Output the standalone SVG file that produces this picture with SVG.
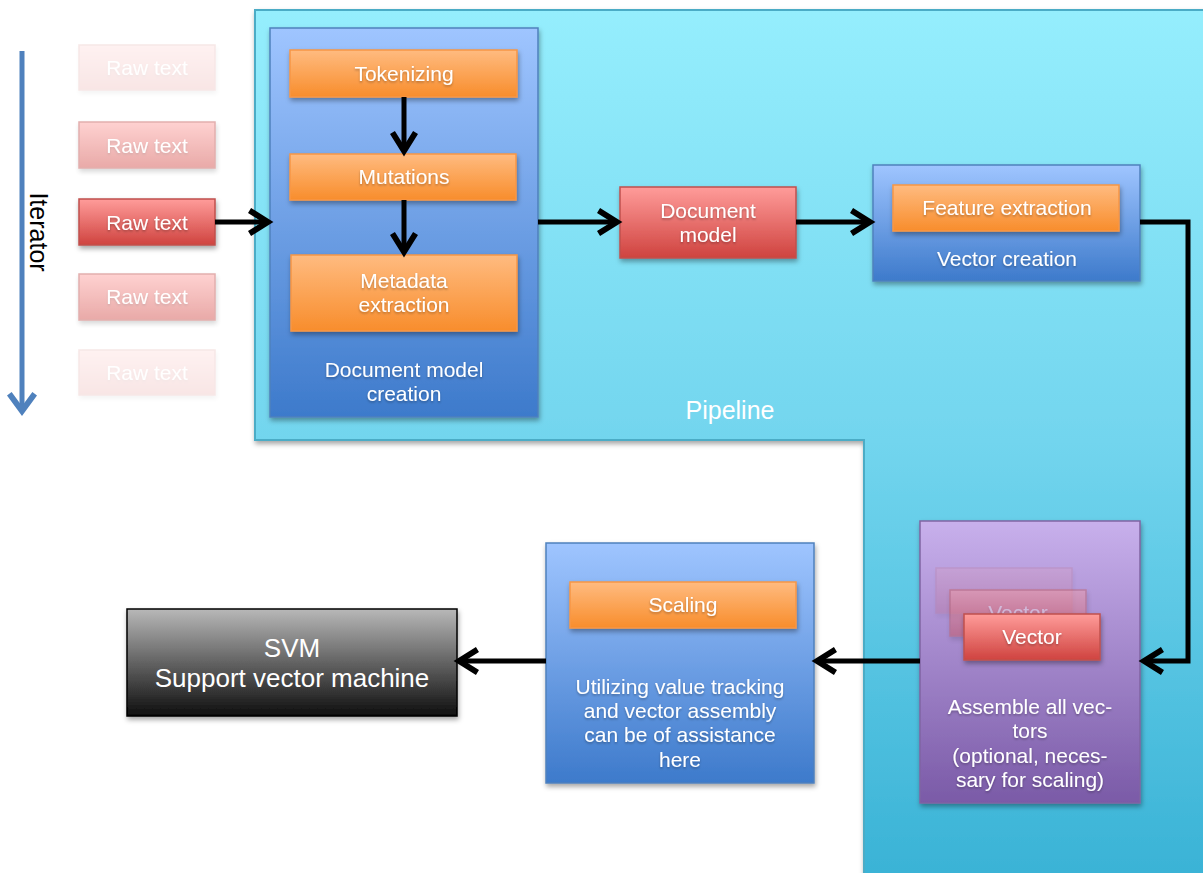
<svg xmlns="http://www.w3.org/2000/svg" width="1203" height="873" viewBox="0 0 1203 873">
  <defs>
    <linearGradient id="gPipe" x1="0" y1="10" x2="0" y2="873" gradientUnits="userSpaceOnUse">
      <stop offset="0" stop-color="#95EEFD"/>
      <stop offset="0.5" stop-color="#72D5EE"/>
      <stop offset="1" stop-color="#3AB3D6"/>
    </linearGradient>
    <linearGradient id="gBlue" x1="0" y1="0" x2="0" y2="1">
      <stop offset="0" stop-color="#9FC5FF"/>
      <stop offset="1" stop-color="#3D7ACB"/>
    </linearGradient>
    <linearGradient id="gOrange" x1="0" y1="0" x2="0" y2="1">
      <stop offset="0" stop-color="#FFBB80"/>
      <stop offset="1" stop-color="#F88D2C"/>
    </linearGradient>
    <linearGradient id="gRed" x1="0" y1="0" x2="0" y2="1">
      <stop offset="0" stop-color="#FF9C9A"/>
      <stop offset="1" stop-color="#CF433F"/>
    </linearGradient>
    <linearGradient id="gPurple" x1="0" y1="0" x2="0" y2="1">
      <stop offset="0" stop-color="#C8B0EC"/>
      <stop offset="1" stop-color="#7A5AA7"/>
    </linearGradient>
    <linearGradient id="gGrey" x1="0" y1="0" x2="0" y2="1">
      <stop offset="0" stop-color="#B8B8B8"/>
      <stop offset="1" stop-color="#0E0E0E"/>
    </linearGradient>
    <filter id="shadow" x="-10%" y="-10%" width="125%" height="130%">
      <feDropShadow dx="1" dy="3" stdDeviation="2.5" flood-color="#000" flood-opacity="0.35"/>
    </filter>
    <filter id="tshadow" x="-10%" y="-20%" width="120%" height="150%">
      <feDropShadow dx="0" dy="1.5" stdDeviation="1" flood-color="#000" flood-opacity="0.3"/>
    </filter>
    <marker id="chev" markerUnits="userSpaceOnUse" markerWidth="30" markerHeight="30" viewBox="-20 -13 24 26" refX="0" refY="0" orient="auto">
      <path d="M-16,-10 L0,0 L-16,10" fill="none" stroke="#000" stroke-width="5" stroke-linejoin="miter"/>
    </marker>
    <marker id="chevBlue" markerUnits="userSpaceOnUse" markerWidth="30" markerHeight="30" viewBox="-20 -13 24 26" refX="0" refY="0" orient="auto">
      <path d="M-15,-11 L0,0 L-15,11" fill="none" stroke="#4F81BD" stroke-width="5"/>
    </marker>
  </defs>
  <style>
    text { font-family: "Liberation Sans", Arial, sans-serif; }
    .lbl { fill: #FFFFFF; font-size: 21px; text-anchor: middle; filter: url(#tshadow); }
    .big { fill: #FFFFFF; font-size: 26px; text-anchor: middle; }
    .blue { fill: url(#gBlue); stroke: #4F81BD; stroke-width: 1.5; filter: url(#shadow); }
    .orange { fill: url(#gOrange); stroke: #F79646; stroke-width: 1.5; filter: url(#shadow); }
    .red { fill: url(#gRed); stroke: #C0504D; stroke-width: 1.5; filter: url(#shadow); }
    .purple { fill: url(#gPurple); stroke: #8064A2; stroke-width: 1.5; filter: url(#shadow); }
    .conn { fill: none; stroke: #000; stroke-width: 5; marker-end: url(#chev); }
  </style>

  <rect width="1203" height="873" fill="#FFFFFF"/>

  <!-- Pipeline region -->
  <g id="pipeline">
    <polygon points="255,10 1215,10 1215,885 864,885 864,440 255,440" fill="url(#gPipe)" stroke="#4BACC6" stroke-width="2" filter="url(#shadow)"/>
    <text class="big" x="730" y="419" style="font-size:25px">Pipeline</text>
  </g>

  <!-- Iterator -->
  <g id="iterator">
    <line x1="22" y1="51" x2="22" y2="411" stroke="#4F81BD" stroke-width="5" marker-end="url(#chevBlue)"/>
    <text x="0" y="0" transform="translate(30,232) rotate(90)" font-size="25" fill="#000" text-anchor="middle">Iterator</text>
  </g>

  <!-- Raw text inputs -->
  <g id="raw1" opacity="0.13">
    <rect class="red" x="79" y="45" width="136" height="45"/>
    <text class="lbl" x="147" y="75">Raw text</text>
  </g>
  <g id="raw2" opacity="0.45">
    <rect class="red" x="79" y="122" width="136" height="46"/>
    <text class="lbl" x="147" y="153">Raw text</text>
  </g>
  <g id="raw3">
    <rect class="red" x="79" y="199" width="136" height="46"/>
    <text class="lbl" x="147" y="230">Raw text</text>
  </g>
  <g id="raw4" opacity="0.45">
    <rect class="red" x="79" y="274" width="136" height="46"/>
    <text class="lbl" x="147" y="304">Raw text</text>
  </g>
  <g id="raw5" opacity="0.13">
    <rect class="red" x="79" y="350" width="136" height="45"/>
    <text class="lbl" x="147" y="380">Raw text</text>
  </g>

  <!-- Document model creation -->
  <g id="docModelCreation">
    <rect class="blue" x="270" y="28" width="268" height="389"/>
    <text class="lbl" x="404" y="377">Document model</text>
    <text class="lbl" x="404" y="401">creation</text>
  </g>
  <g id="tokenizing">
    <rect class="orange" x="290" y="50" width="227" height="47"/>
    <text class="lbl" x="404" y="81">Tokenizing</text>
  </g>
  <g id="mutations">
    <rect class="orange" x="290" y="154" width="226" height="46"/>
    <text class="lbl" x="404" y="184">Mutations</text>
  </g>
  <g id="metadata">
    <rect class="orange" x="291" y="255" width="226" height="76"/>
    <text class="lbl" x="404" y="288">Metadata</text>
    <text class="lbl" x="404" y="312">extraction</text>
  </g>

  <!-- Document model -->
  <g id="docModel">
    <rect class="red" x="620" y="187" width="176" height="71"/>
    <text class="lbl" x="708" y="218">Document</text>
    <text class="lbl" x="708" y="242">model</text>
  </g>

  <!-- Vector creation -->
  <g id="vectorCreation">
    <rect class="blue" x="873" y="165" width="267" height="116"/>
    <text class="lbl" x="1007" y="266">Vector creation</text>
  </g>
  <g id="featureExtraction">
    <rect class="orange" x="893" y="185" width="226" height="46"/>
    <text class="lbl" x="1007" y="215">Feature extraction</text>
  </g>

  <!-- Vector assembly -->
  <g id="assemble">
    <rect class="purple" x="920" y="521" width="220" height="282"/>
    <text class="lbl" x="1030" y="714">Assemble all vec-</text>
    <text class="lbl" x="1030" y="738">tors</text>
    <text class="lbl" x="1030" y="763">(optional, neces-</text>
    <text class="lbl" x="1030" y="787">sary for scaling)</text>
  </g>
  <g id="vectorBack" opacity="0.15">
    <rect class="red" x="936" y="568" width="136" height="45"/>
  </g>
  <g id="vectorMid" opacity="0.4">
    <rect class="red" x="950" y="590" width="136" height="46"/>
    <text class="lbl" x="1018" y="620">Vector</text>
  </g>
  <g id="vectorFront">
    <rect class="red" x="964" y="614" width="136" height="46"/>
    <text class="lbl" x="1032" y="644">Vector</text>
  </g>

  <!-- Scaling -->
  <g id="scalingStage">
    <rect class="blue" x="546" y="543" width="268" height="240"/>
    <text class="lbl" x="680" y="694">Utilizing value tracking</text>
    <text class="lbl" x="680" y="718">and vector assembly</text>
    <text class="lbl" x="680" y="742">can be of assistance</text>
    <text class="lbl" x="680" y="767">here</text>
  </g>
  <g id="scaling">
    <rect class="orange" x="570" y="582" width="226" height="46"/>
    <text class="lbl" x="683" y="612">Scaling</text>
  </g>

  <!-- SVM -->
  <g id="svm">
    <rect x="127" y="609" width="330" height="107" fill="url(#gGrey)" stroke="#000" stroke-width="1.5" filter="url(#shadow)"/>
    <text class="big" x="292" y="657">SVM</text>
    <text class="big" x="292" y="687">Support vector machine</text>
  </g>

  <!-- Connectors -->
  <g id="connectors">
    <line class="conn" x1="215" y1="222" x2="268" y2="222"/>
    <line class="conn" x1="404" y1="97" x2="404" y2="151"/>
    <line class="conn" x1="404" y1="200" x2="404" y2="252"/>
    <line class="conn" x1="538" y1="222" x2="617" y2="222"/>
    <line class="conn" x1="796" y1="222" x2="870" y2="222"/>
    <path class="conn" d="M1140,222 H1188 V661 H1144" stroke-linejoin="miter"/>
    <line class="conn" x1="920" y1="661" x2="817" y2="661"/>
    <line class="conn" x1="546" y1="661" x2="459" y2="661"/>
  </g>
</svg>
